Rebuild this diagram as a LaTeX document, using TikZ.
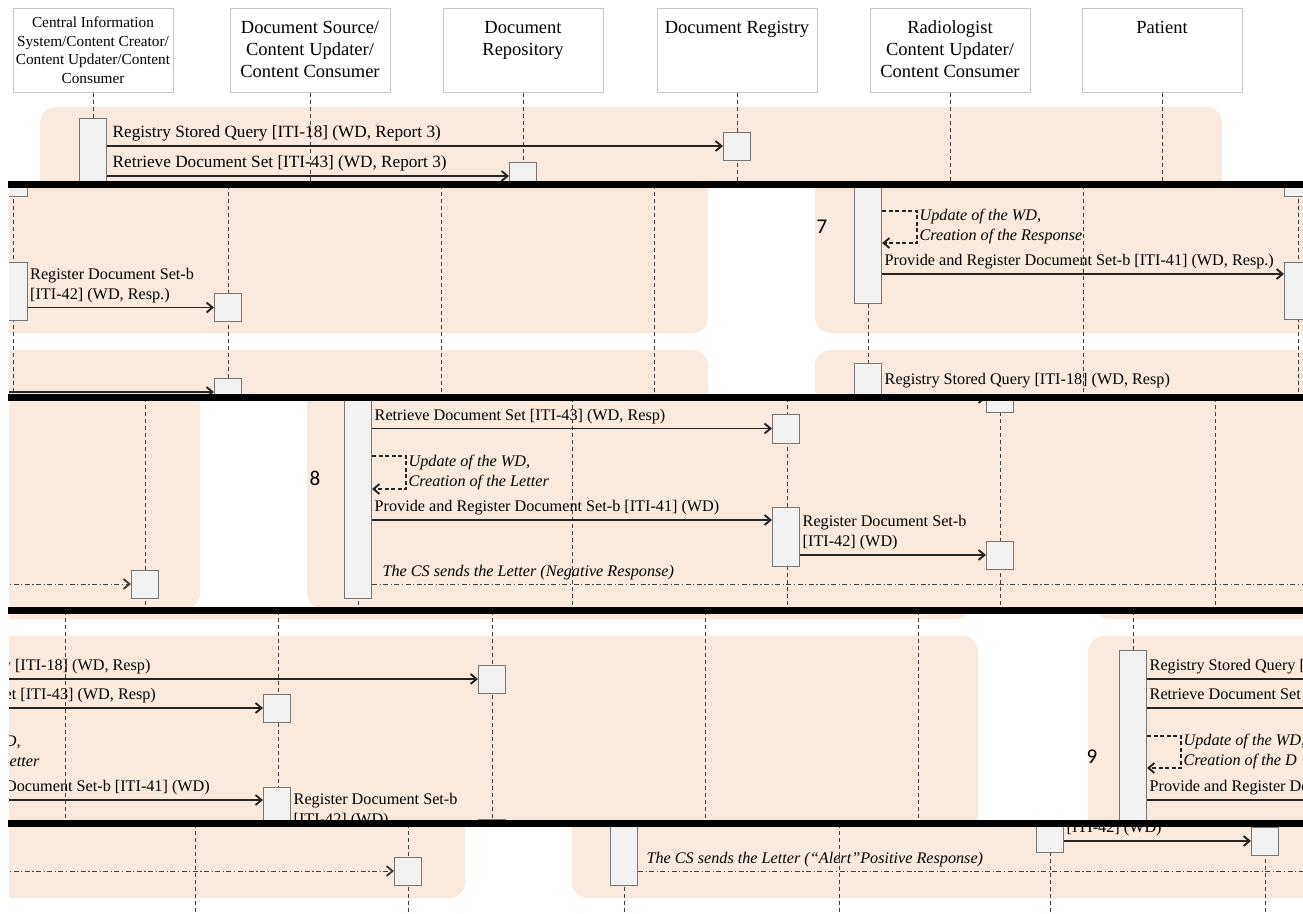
\documentclass[tikz,border=0pt]{standalone}
\usepackage{fontspec}
\setmainfont{Liberation Serif}
\newfontfamily\digitfont{Carlito}
\usetikzlibrary{arrows.meta}
\definecolor{peach}{RGB}{250,234,222}
\definecolor{actfill}{RGB}{242,242,242}
\definecolor{actline}{RGB}{118,118,118}
\definecolor{lifeline}{RGB}{64,64,64}
\newcommand\msgsize{\fontsize{16.2}{20}\selectfont}
\newcommand\actor[1]{\parbox[t][58pt][t]{156pt}{\centering #1}}
\tikzset{
  region/.style={fill=peach, rounded corners=16pt},
  head/.style={draw=gray!45, line width=1pt, fill=white, minimum width=160pt,
    minimum height=84pt, inner sep=0pt, font=\fontsize{18.5}{22}\selectfont},
  act/.style={draw=actline, line width=1pt, fill=actfill, minimum width=27pt,
    minimum height=#1, inner sep=0pt},
  act/.default=28pt,
  life/.style={draw=lifeline, line width=1pt, dash pattern=on 4pt off 3pt},
  msg/.style={draw=black!85, line width=1.4pt,
    -{Straight Barb[length=6pt,width=10pt,line width=1.9pt]}},
  back/.style={msg, line width=1.2pt, dash pattern=on 4pt off 2.5pt},
  letter/.style={draw=black!75, line width=1pt,
    dash pattern=on 5pt off 2.5pt on 1.2pt off 2.5pt},
  letterarr/.style={letter, -{Straight Barb[length=6pt,width=10pt,line width=1.9pt]}},
  lbl/.style={font=\msgsize, anchor=south west, inner xsep=2pt, inner ysep=4pt, align=left},
  selflbl/.style={font=\msgsize\itshape, anchor=west, inner xsep=2pt, inner ysep=0pt, align=left},
  num/.style={font=\digitfont\fontsize{21}{24}\selectfont},
  sep/.style={line width=7pt, black}
}
\begin{document}
\begin{tikzpicture}[x=1pt, y=-1pt]
\useasboundingbox (0,0) rectangle (1303,913);

% strip 1: participants and first queries
\begin{scope}
  \clip (0,0) rectangle (1303,185);
  \fill[region] (40,107) rectangle (1222,260);
  \node[head, font=\fontsize{15.3}{18.5}\selectfont, align=center] (cis) at (93,50)
    {Central Information\\System/Content Creator/\\Content Updater/Content\\Consumer};
  \node[head] (src) at (310,50) {\actor{Document Source/\\Content Updater/\\Content Consumer}};
  \node[head] (rep) at (523,50) {\actor{Document\\Repository}};
  \node[head] (reg) at (737,50) {\actor{Document Registry}};
  \node[head] (rad) at (950,50) {\actor{Radiologist\\Content Updater/\\Content Consumer}};
  \node[head] (pat) at (1162,50) {\actor{Patient}};
  \foreach \p in {cis,src,rep,reg,rad,pat}
    \draw[life] (\p.south) -- ++(0,100);
  \node[act=90pt] (cisbar) at (93,163) {};
  \node[act] (reg1) at (737,146) {};
  \node[act] (rep1) at (523,176) {};
  \draw[msg] (cisbar.east |- reg1) -- node[lbl, pos=0, font=\fontsize{17.2}{21}\selectfont, xshift=3pt]
    {Registry Stored Query [ITI-18] (WD, Report 3)} (reg1.west);
  \draw[msg] (cisbar.east |- rep1) -- node[lbl, pos=0, font=\fontsize{17.2}{21}\selectfont, xshift=3pt]
    {Retrieve Document Set [ITI-43] (WD, Report 3)} (rep1.west);
\end{scope}

% strip 2: step 7
\begin{scope}
  \clip (9,185) rectangle (1303,398);
  \fill[region] (-40,120) rectangle (708,333);
  \fill[region] (-40,350) rectangle (708,520);
  \fill[region] (815,120) rectangle (1400,333);
  \fill[region] (815,350) rectangle (1400,520);
  \foreach \x in {13,228,441,654,868,1083,1298}
    \draw[life] (\x,185) -- (\x,398);
  \node[act] (cs6) at (13.5,182) {};
  \node[act=58pt] (cs6b) at (13.5,291) {};
  \node[act] (src6) at (228,307.5) {};
  \draw[msg] (cs6b.east |- src6) -- node[lbl, pos=0] {Register Document Set-b\\{}[ITI-42] (WD, Resp.)} (src6.west);
  \node[act] (src6b) at (228,392) {};
  \coordinate (in6) at (-20,392);
  \draw[msg] (in6) -- (src6b.west);
  \node[num] (n7) at (822,227) {7};
  \node[act=123pt] (rad7) at (868,241.5) {};
  \node[act] (top7) at (1298,182) {};
  \node[act=57pt] (pat7) at (1298,290.5) {};
  \draw[back] (rad7.east |- 0,211) -- ++(35,0) |- node[selflbl, pos=0.25]
    {Update of the WD,\\Creation of the Response} (rad7.east |- 0,243);
  \draw[msg] (rad7.east |- 0,274) -- node[lbl, pos=0] {Provide and Register Document Set-b [ITI-41] (WD, Resp.)} (pat7.west |- 0,274);
  \node[act=54pt] (rad7b) at (868,390) {};
  \coordinate (q7) at (1070,400);
  \draw[msg] (rad7b.east |- q7) -- node[lbl, pos=0, yshift=7pt] {Registry Stored Query [ITI-18] (WD, Resp)} (q7);
\end{scope}

% strip 3: step 8
\begin{scope}
  \clip (9,398) rectangle (1303,611);
  \fill[region] (-40,300) rectangle (200,609);
  \fill[region] (307,300) rectangle (1400,609);
  \foreach \x in {145,358,572,787,1000,1215}
    \draw[life] (\x,398) -- (\x,611);
  \node[act] (src8) at (145,584) {};
  \coordinate (in8) at (-20,584);
  \draw[letterarr] (in8) -- (src8.west);
  \node[num] (n8) at (315,478) {8};
  \node[act=218pt] (cs8) at (358,489) {};
  \node[act] (rad8) at (1000,398) {};
  \draw[msg] (cs8.east |- rad8) -- (rad8.west);
  \node[act=29pt] (reg8) at (786,428.5) {};
  \draw[msg] (cs8.east |- reg8) -- node[lbl, pos=0] {Retrieve Document Set [ITI-43] (WD, Resp)} (reg8.west);
  \draw[back] (cs8.east |- 0,456) -- ++(34,0) |- node[selflbl, pos=0.25]
    {Update of the WD,\\Creation of the Letter} (cs8.east |- 0,489);
  \node[act=59pt] (reg8b) at (786,536.5) {};
  \draw[msg] (cs8.east |- 0,520) -- node[lbl, pos=0] {Provide and Register Document Set-b [ITI-41] (WD)} (reg8b.west |- 0,520);
  \node[act] (rad8b) at (1000,555) {};
  \draw[msg] (reg8b.east |- rad8b) -- node[lbl, pos=0] {Register Document Set-b\\{}[ITI-42] (WD)} (rad8b.west);
  \coordinate (out8) at (1320,584);
  \draw[letter] (cs8.east |- out8) -- node[lbl, pos=0, font=\msgsize\itshape, xshift=8pt]
    {The CS sends the Letter (Negative Response)} (out8);
\end{scope}

% strip 4: step 8 again, step 9
\begin{scope}
  \clip (9,611) rectangle (1303,824);
  \fill[region] (-40,500) rectangle (972,619);
  \fill[region] (1094,500) rectangle (1400,619);
  \fill[region] (-40,636) rectangle (978,900);
  \fill[region] (1088,636) rectangle (1400,900);
  \foreach \x in {65,278,492,705,918,1133}
    \draw[life] (\x,611) -- (\x,824);
  \coordinate (cs8c) at (-137.5,700);
  \node[act] (rad8c) at (492,679) {};
  \draw[msg] (cs8c |- rad8c) -- node[lbl, pos=0] {Registry Stored Query [ITI-18] (WD, Resp)} (rad8c.west);
  \node[act] (reg8c) at (277,708) {};
  \draw[msg] (cs8c |- reg8c) -- node[lbl, pos=0] {Retrieve Document Set [ITI-43] (WD, Resp)} (reg8c.west);
  \draw[back] (cs8c |- 0,736) -- ++(34,0) |- node[selflbl, pos=0.25]
    {Update of the WD,\\Creation of the Letter} (cs8c |- 0,769);
  \node[act=59pt] (reg8d) at (277,816.5) {};
  \draw[msg] (cs8c |- 0,800) -- node[lbl, pos=0] {Provide and Register Document Set-b [ITI-41] (WD)} (reg8d.west |- 0,800);
  \node[act] (rad8d) at (492,833) {};
  \draw[msg] (reg8d.east |- rad8d) -- node[lbl, pos=0] {Register Document Set-b\\{}[ITI-42] (WD)} (rad8d.west);
  \node[num] (n9) at (1092,757) {9};
  \node[act=250pt] (pat9) at (1133,775) {};
  \coordinate (out9a) at (1320,679);
  \coordinate (out9b) at (1320,708);
  \coordinate (out9c) at (1320,800);
  \draw[msg] (pat9.east |- out9a) -- node[lbl, pos=0] {Registry Stored Query [ITI-18] (WD, Resp)} (out9a);
  \draw[msg] (pat9.east |- out9b) -- node[lbl, pos=0] {Retrieve Document Set [ITI-43] (WD, Resp)} (out9b);
  \draw[back] (pat9.east |- 0,736) -- ++(34,0) |- node[selflbl, pos=0.25]
    {Update of the WD,\\Creation of the D} (pat9.east |- 0,768);
  \draw[msg] (pat9.east |- out9c) -- node[lbl, pos=0] {Provide and Register Document Set-b [ITI-41] (WD)} (out9c);
\end{scope}

% strip 5: letters
\begin{scope}
  \clip (9,824) rectangle (1303,913);
  \fill[region] (-40,700) rectangle (465,898);
  \fill[region] (572,700) rectangle (1400,898);
  \foreach \x in {195,408,624,839,1050,1265}
    \draw[life] (\x,824) -- (\x,913);
  \node[act] (src9) at (408,871) {};
  \coordinate (in10) at (-20,871);
  \draw[letterarr] (in10) -- (src9.west);
  \node[act=125pt] (pat9b) at (624,822.5) {};
  \node[act=52pt] (reg9) at (1050,826) {};
  \node[act] (rad9) at (1265,841) {};
  \draw[msg] (reg9.east |- rad9) -- node[lbl, pos=0] {Register Document Set-b\\{}[ITI-42] (WD)} (rad9.west);
  \coordinate (out9d) at (1320,871);
  \draw[letter] (pat9b.east |- out9d) -- node[lbl, pos=0, font=\msgsize\itshape, xshift=6pt]
    {The CS sends the Letter (“Alert”Positive Response)} (out9d);
\end{scope}

% cut lines between the strips
\foreach \y in {184.5,397.5,610.5,823.5}
  \draw[sep] (8,\y) -- (1303,\y);
\end{tikzpicture}
\end{document}
